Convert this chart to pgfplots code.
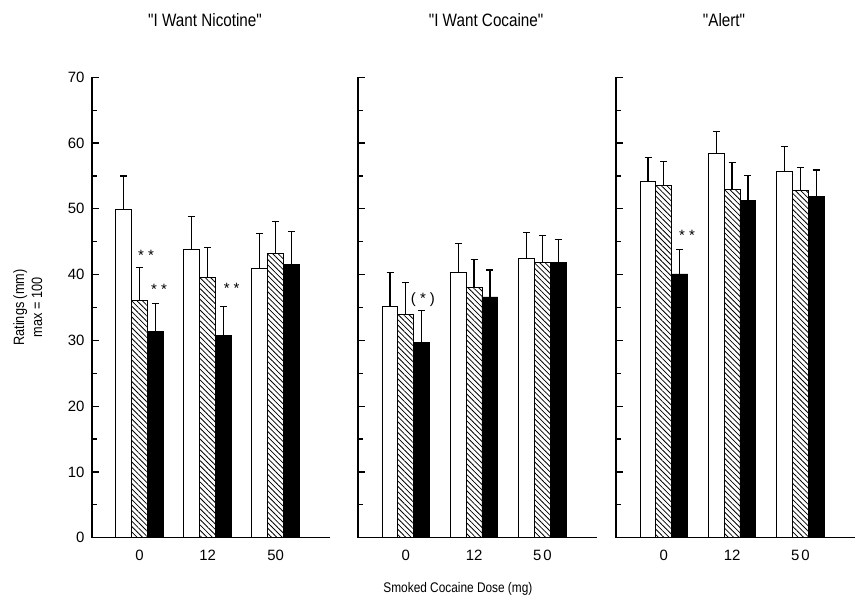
\documentclass[border=0pt]{standalone}
\usepackage{fontspec}
\setmainfont{Liberation Sans}
\newfontfamily\narrowfont{Liberation Sans}[FakeStretch=0.85]
\usepackage{pgfplots}
\pgfplotsset{compat=1.18}
\usetikzlibrary{patterns.meta}

\tikzset{starlbl/.style={font=\fontsize{15}{15}\selectfont, anchor=center, inner sep=0pt}}
\pgfplotsset{
  panel/.style={
    scale only axis, width=238bp, height=460.4bp,
    xmin=0.3, xmax=3.8, ymin=0, ymax=70,
    axis x line=bottom, axis y line=left, axis line style={-, line width=1.3bp},
    ybar=0pt, bar width=15.8bp,
    xtick={1,2,3}, xtick style={draw=none},
    ytick={0,10,...,70}, minor y tick num=1,
    tick align=inside, major tick length=7bp, minor tick length=4.5bp,
    ytick style={line width=1.2bp, black},
    minor y tick style={line width=1.2bp, black},
    ticklabel style={font=\fontsize{15}{15}\selectfont},
    yticklabel style={xshift=-4bp},
    xticklabel style={anchor=base, yshift=-23bp},
    /pgf/number format/assume math mode=true,
    clip=false,
    title style={font=\narrowfont\fontsize{18}{18}\selectfont, anchor=base, yshift=45bp},
  },
  err/.style={error bars/.cd, y dir=plus, y explicit,
    error bar style={line width=1.3bp, black},
    error mark options={rotate=90, line width=1.3bp, mark size=3.5bp, black}},
  wbar/.style={draw=black, line width=0.9bp, fill=white, err},
  hbar/.style={draw=black, line width=0.9bp, pattern={Lines[angle=-45,distance=3.8bp,line width=0.8bp]}, err},
  bbar/.style={draw=black, line width=0.9bp, fill=black, err},
}

\begin{document}
\begin{tikzpicture}
\useasboundingbox (0,0) rectangle (859bp,599bp);

% Panel 1
\begin{axis}[panel, at={(92bp,61.3bp)}, anchor=south west,
  xticklabels={0,12,50},
  title={"I Want Nicotine"}, title style={at={(axis description cs:0.475,1)}},
  ylabel={Ratings (mm)\\max = 100},
  ylabel style={align=center, font=\narrowfont\fontsize{15}{18}\selectfont, at={(axis description cs:-0.27,0.5)}, anchor=center},
]
\addplot[wbar] coordinates {(1,49.9) +- (0,5.1) (2,43.9) +- (0,4.9) (3,40.9) +- (0,5.3)};
\addplot[hbar] coordinates {(1,36.1) +- (0,5.0) (2,39.5) +- (0,4.6) (3,43.2) +- (0,4.9)};
\addplot[bbar] coordinates {(1,31.4) +- (0,4.2) (2,30.8) +- (0,4.4) (3,41.5) +- (0,5.1)};
\node[starlbl] at (axis cs:1.094,43.0) {* *};
\node[starlbl] at (axis cs:1.285,37.7) {* *};
\node[starlbl] at (axis cs:2.354,37.9) {* *};
\end{axis}

% Panel 2
\begin{axis}[panel, at={(358bp,61.3bp)}, anchor=south west, width=239bp,
  xticklabels={0,12,5\kern2bp 0}, yticklabels={},
  title={"I Want Cocaine"}, title style={at={(axis description cs:0.536,1)}},
  xlabel={Smoked Cocaine Dose (mg)},
  xlabel style={font=\narrowfont\fontsize{14}{14}\selectfont, at={(axis description cs:0.418,0)}, anchor=base, yshift=-54.8bp},
]
\addplot[wbar] coordinates {(1,35.1) +- (0,5.2) (2,40.3) +- (0,4.4) (3,42.4) +- (0,4.0)};
\addplot[hbar] coordinates {(1,34.0) +- (0,4.8) (2,38.1) +- (0,4.2) (3,41.8) +- (0,4.1)};
\addplot[bbar] coordinates {(1,29.7) +- (0,4.8) (2,36.6) +- (0,4.1) (3,41.8) +- (0,3.5)};
\node[starlbl] at (axis cs:1.251,36.2) {( * )};
\end{axis}

% Panel 3
\begin{axis}[panel, at={(616bp,61.3bp)}, anchor=south west, width=239bp,
  xticklabels={0,12,5\kern2bp 0}, yticklabels={},
  y axis line style={line width=2bp},
  title={"Alert"}, title style={at={(axis description cs:0.452,1)}},
]
\addplot[wbar] coordinates {(1,54.1) +- (0,3.7) (2,58.4) +- (0,3.4) (3,55.7) +- (0,3.8)};
\addplot[hbar] coordinates {(1,53.6) +- (0,3.6) (2,52.9) +- (0,4.1) (3,52.8) +- (0,3.5)};
\addplot[bbar] coordinates {(1,40.1) +- (0,3.7) (2,51.3) +- (0,3.8) (3,51.9) +- (0,4.0)};
\node[starlbl] at (axis cs:1.34,45.9) {* *};
\end{axis}
\end{tikzpicture}
\end{document}
